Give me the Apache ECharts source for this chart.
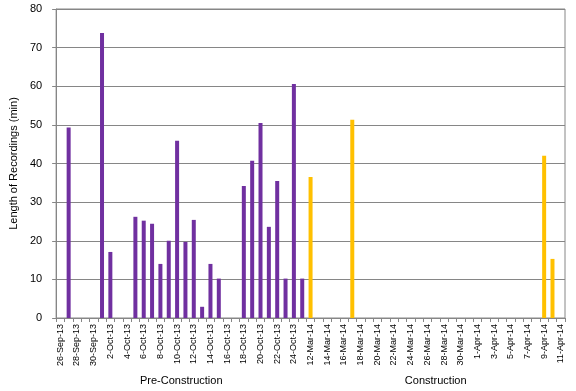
<!DOCTYPE html>
<html>
<head>
<meta charset="utf-8">
<script src="https://cdn.jsdelivr.net/npm/echarts@6/dist/echarts.min.js"></script>
<style>html,body{margin:0;padding:0;background:#fff;}#c{width:576px;height:391px;}</style>
</head>
<body>
<div id="c"></div>
<script>
const categories = [
  '26-Sep-13','27-Sep-13','28-Sep-13','29-Sep-13','30-Sep-13',
  '1-Oct-13','2-Oct-13','3-Oct-13','4-Oct-13','5-Oct-13','6-Oct-13','7-Oct-13','8-Oct-13','9-Oct-13','10-Oct-13',
  '11-Oct-13','12-Oct-13','13-Oct-13','14-Oct-13','15-Oct-13','16-Oct-13','17-Oct-13','18-Oct-13','19-Oct-13','20-Oct-13',
  '21-Oct-13','22-Oct-13','23-Oct-13','24-Oct-13','25-Oct-13',
  '12-Mar-14','13-Mar-14','14-Mar-14','15-Mar-14','16-Mar-14','17-Mar-14','18-Mar-14','19-Mar-14','20-Mar-14','21-Mar-14',
  '22-Mar-14','23-Mar-14','24-Mar-14','25-Mar-14','26-Mar-14','27-Mar-14','28-Mar-14','29-Mar-14','30-Mar-14','31-Mar-14',
  '1-Apr-14','2-Apr-14','3-Apr-14','4-Apr-14','5-Apr-14','6-Apr-14','7-Apr-14','8-Apr-14','9-Apr-14','10-Apr-14','11-Apr-14'
];
const preConstruction = [
  null, 49.3, null, null, null,
  73.8, 17.1, null, null, 26.2, 25.2, 24.4, 14.0, 20.0, 45.9,
  19.7, 25.4, 2.9, 14.0, 10.2, null, null, 34.2, 40.7, 50.5,
  23.6, 35.5, 10.2, 60.6, 10.2,
  null, null, null, null, null, null, null, null, null, null,
  null, null, null, null, null, null, null, null, null, null,
  null, null, null, null, null, null, null, null, null, null, null
];
const construction = [
  null, null, null, null, null,
  null, null, null, null, null, null, null, null, null, null,
  null, null, null, null, null, null, null, null, null, null,
  null, null, null, null, null,
  36.5, null, null, null, null, 51.3, null, null, null, null,
  null, null, null, null, null, null, null, null, null, null,
  null, null, null, null, null, null, null, null, 42.0, 15.3, null
];
const groupNames = ['Pre-Construction', 'Construction'];
const groupSpans = [['26-Sep-13','25-Oct-13'], ['12-Mar-14','11-Apr-14']];
const yTitle = 'Length of Recordings (min)';

const FONT = 'Liberation Sans';
const chart = echarts.init(document.getElementById('c'), null, {renderer: 'canvas'});
chart.setOption({
  animation: false,
  textStyle: {fontFamily: FONT},
  grid: {left: 52, right: 11, top: 9, bottom: 73, show: true, borderColor: '#868686', borderWidth: 1},
  xAxis: {
    type: 'category',
    data: categories,
    axisLine: {lineStyle: {color: '#868686'}},
    axisTick: {show: true, interval: 0, length: 4, lineStyle: {color: '#868686'}},
    axisLabel: {interval: 1, rotate: 90, fontSize: 9, color: '#000', margin: 6, fontFamily: FONT},
    splitLine: {show: false}
  },
  yAxis: {
    type: 'value',
    min: 0, max: 80, interval: 10,
    name: yTitle,
    nameLocation: 'middle',
    nameGap: 34,
    nameTextStyle: {fontSize: 11, color: '#000', fontFamily: FONT},
    axisLine: {show: true, lineStyle: {color: '#868686'}},
    axisTick: {show: true, length: 4, lineStyle: {color: '#868686'}},
    axisLabel: {fontSize: 11, color: '#000', margin: 14, fontFamily: FONT},
    splitLine: {lineStyle: {color: '#868686', width: 1}}
  },
  series: [
    {name: groupNames[0], type: 'bar', stack: 'all', data: preConstruction, barWidth: 4, itemStyle: {color: '#7030A0'}},
    {name: groupNames[1], type: 'bar', stack: 'all', data: construction, barWidth: 4, itemStyle: {color: '#FFC000'}}
  ]
});

function placeGroups() {
  const els = groupSpans.map((span, i) => {
    const a = chart.convertToPixel({xAxisIndex: 0}, span[0]);
    const b = chart.convertToPixel({xAxisIndex: 0}, span[1]);
    return {
      type: 'text',
      x: (a + b) / 2,
      y: 381,
      style: {text: groupNames[i], fontSize: 11, fill: '#000', align: 'center', verticalAlign: 'middle', fontFamily: FONT}
    };
  });
  chart.setOption({graphic: els});
}
placeGroups();
</script>
</body>
</html>
